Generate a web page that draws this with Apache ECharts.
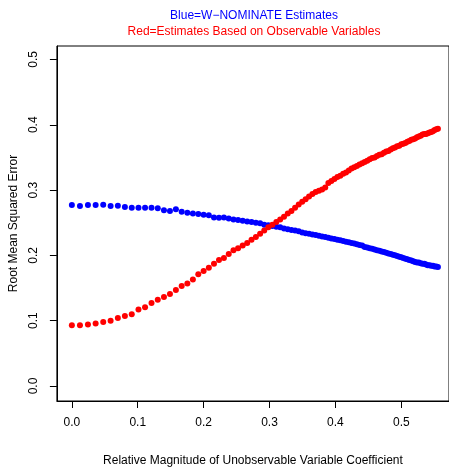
<!DOCTYPE html>
<html>
<head>
<meta charset="utf-8">
<script src="https://cdn.jsdelivr.net/npm/echarts@6/dist/echarts.min.js"></script>
<style>
  html, body { margin: 0; padding: 0; background: #fff; }
  #chart { width: 449px; height: 472px; }
</style>
</head>
<body>
<div id="chart"></div>
<script>
// relative magnitude of the unobservable coefficient (x)
const magnitude = [
  0, 0.0123, 0.0244, 0.0361, 0.0476, 0.0588, 0.0698, 0.0805, 0.0909, 0.1011,
  0.1111, 0.1209, 0.1304, 0.1398, 0.1489, 0.1579, 0.1667, 0.1753, 0.1837, 0.1919,
  0.2, 0.2079, 0.2157, 0.2233, 0.2308, 0.2381, 0.2453, 0.2523, 0.2593, 0.2661,
  0.2727, 0.2793, 0.2857, 0.2920, 0.2982, 0.3043, 0.3103, 0.3162, 0.3220, 0.3277,
  0.3333, 0.3388, 0.3443, 0.3496, 0.3548, 0.3600, 0.3651, 0.3701, 0.375, 0.3798,
  0.3846, 0.3893, 0.3939, 0.3985, 0.4030, 0.4074, 0.4118, 0.4161, 0.4203, 0.4245,
  0.4286, 0.4326, 0.4366, 0.4406, 0.4444, 0.4483, 0.4521, 0.4558, 0.4595, 0.4631,
  0.4667, 0.4702, 0.4737, 0.4771, 0.4805, 0.4839, 0.4872, 0.4904, 0.4937, 0.4969,
  0.5, 0.5031, 0.5062, 0.5092, 0.5122, 0.5152, 0.5181, 0.5210, 0.5238, 0.5266,
  0.5294, 0.5322, 0.5349, 0.5376, 0.5402, 0.5429, 0.5455, 0.5480, 0.5506, 0.5531,
  0.5556
];

// W-NOMINATE estimates (blue)
const nominateRmse = [
  0.277, 0.2755, 0.277, 0.277, 0.2776, 0.2755, 0.276, 0.274, 0.273, 0.273,
  0.273, 0.273, 0.272, 0.269, 0.268, 0.2705, 0.2667, 0.2653, 0.264, 0.2634,
  0.2623, 0.2614, 0.258, 0.2576, 0.258, 0.2566, 0.255, 0.254, 0.253, 0.252,
  0.251, 0.250, 0.249, 0.247, 0.246, 0.245, 0.244, 0.243, 0.241, 0.240,
  0.239, 0.238, 0.237, 0.235, 0.234, 0.233, 0.232, 0.231, 0.230, 0.229,
  0.228, 0.227, 0.226, 0.225, 0.224, 0.223, 0.222, 0.221, 0.220, 0.219,
  0.218, 0.217, 0.216, 0.215, 0.213, 0.212, 0.211, 0.210, 0.209, 0.208,
  0.207, 0.206, 0.205, 0.204, 0.203, 0.202, 0.201, 0.200, 0.199, 0.198,
  0.197, 0.196, 0.195, 0.194, 0.193, 0.192, 0.191, 0.190, 0.189, 0.189,
  0.188, 0.187, 0.187, 0.186, 0.185, 0.185, 0.184, 0.184, 0.183, 0.183,
  0.182
];

// estimates based on observable variables (red)
const observableRmse = [
  0.093, 0.093, 0.094, 0.0955, 0.098, 0.100, 0.104, 0.107, 0.110, 0.117,
  0.1205, 0.127, 0.132, 0.1363, 0.141, 0.147, 0.153, 0.157, 0.163, 0.171,
  0.176, 0.181, 0.187, 0.193, 0.196, 0.202, 0.208, 0.211, 0.215, 0.219,
  0.224, 0.228, 0.233, 0.238, 0.243, 0.247, 0.251, 0.255, 0.259, 0.264,
  0.268, 0.273, 0.278, 0.282, 0.286, 0.290, 0.294, 0.297, 0.299, 0.301,
  0.304, 0.311, 0.314, 0.317, 0.320, 0.322, 0.325, 0.327, 0.330, 0.333,
  0.335, 0.337, 0.339, 0.341, 0.343, 0.345, 0.347, 0.349, 0.350, 0.352,
  0.354, 0.355, 0.357, 0.359, 0.360, 0.362, 0.364, 0.365, 0.367, 0.368,
  0.370, 0.371, 0.372, 0.374, 0.375, 0.377, 0.378, 0.379, 0.381, 0.382,
  0.383, 0.385, 0.386, 0.386, 0.387, 0.388, 0.389, 0.390, 0.392, 0.393,
  0.394
];

const xTicks = [0, 0.1, 0.2, 0.3, 0.4, 0.5];
const yTicks = [0, 0.1, 0.2, 0.3, 0.4, 0.5];

const FONT = '"Liberation Sans", Arial, Helvetica, sans-serif';

let myChart = echarts.init(document.getElementById('chart'), null, { renderer: 'canvas' });

let option = {
  animation: false,
  backgroundColor: '#fff',
  textStyle: { fontFamily: FONT },
  graphic: [
    {
      type: 'text', x: 254, y: 16,
      style: { text: 'Blue=W\u2212NOMINATE Estimates', fill: '#0000ff',
               font: '12px ' + FONT, textAlign: 'center', textVerticalAlign: 'middle' }
    },
    {
      type: 'text', x: 254, y: 32,
      style: { text: 'Red=Estimates Based on Observable Variables', fill: '#ff0000',
               font: '12px ' + FONT, textAlign: 'center', textVerticalAlign: 'middle' }
    }
  ],
  grid: {
    left: 54, top: 46, width: 401, height: 356,
    show: true, borderColor: '#000', borderWidth: 1, backgroundColor: 'transparent'
  },
  xAxis: {
    type: 'value',
    min: -0.0227, max: 0.5724,
    name: 'Relative Magnitude of Unobservable Variable Coefficient',
    nameLocation: 'middle', nameGap: 54,
    nameTextStyle: { color: '#000', fontSize: 12, fontFamily: FONT },
    axisLine: { show: true, onZero: false, lineStyle: { color: '#000', width: 1 } },
    axisTick: { show: true, length: 7, customValues: xTicks, lineStyle: { color: '#000' } },
    axisLabel: {
      customValues: xTicks, margin: 16, color: '#000', fontSize: 12, fontFamily: FONT,
      formatter: v => v.toFixed(1)
    },
    splitLine: { show: false }
  },
  yAxis: {
    type: 'value',
    min: -0.023, max: 0.5206,
    name: 'Root Mean Squared Error',
    nameLocation: 'middle', nameGap: 31, nameRotate: 90,
    nameTextStyle: { color: '#000', fontSize: 12, fontFamily: FONT },
    axisLine: { show: true, onZero: false, lineStyle: { color: '#000', width: 1 } },
    axisTick: { show: true, length: 7, customValues: yTicks, lineStyle: { color: '#000' } },
    axisLabel: {
      customValues: yTicks, rotate: 90, margin: 17, color: '#000', fontSize: 12, fontFamily: FONT,
      formatter: v => v.toFixed(1)
    },
    splitLine: { show: false }
  },
  series: [
    {
      name: 'W-NOMINATE',
      type: 'scatter',
      symbol: 'circle',
      symbolSize: 6,
      itemStyle: { color: '#0000ff', opacity: 1 },
      data: magnitude.map((x, i) => [x, nominateRmse[i]])
    },
    {
      name: 'Observable',
      type: 'scatter',
      symbol: 'circle',
      symbolSize: 6,
      itemStyle: { color: '#ff0000', opacity: 1 },
      data: magnitude.map((x, i) => [x, observableRmse[i]])
    }
  ]
};

option && myChart.setOption(option);
</script>
</body>
</html>
